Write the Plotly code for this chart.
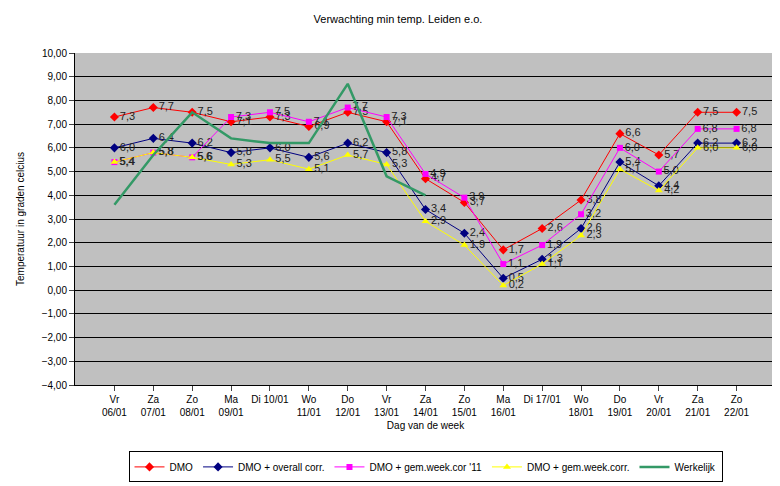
import plotly.graph_objects as go

dagen = ["Vr<br>06/01", "Za<br>07/01", "Zo<br>08/01", "Ma<br>09/01", "Di 10/01", "Wo<br>11/01", "Do<br>12/01",
         "Vr<br>13/01", "Za<br>14/01", "Zo<br>15/01", "Ma<br>16/01", "Di 17/01", "Wo<br>18/01", "Do<br>19/01",
         "Vr<br>20/01", "Za<br>21/01", "Zo<br>22/01"]
dmo = [7.3, 7.7, 7.5, 7.1, 7.3, 6.9, 7.5, 7.1, 4.7, 3.7, 1.7, 2.6, 3.8, 6.6, 5.7, 7.5, 7.5]
overall = [6.0, 6.4, 6.2, 5.8, 6.0, 5.6, 6.2, 5.8, 3.4, 2.4, 0.5, 1.3, 2.6, 5.4, 4.4, 6.2, 6.2]
gemweek11 = [5.4, 5.8, 5.6, 7.3, 7.5, 7.1, 7.7, 7.3, 4.9, 3.9, 1.1, 1.9, 3.2, 6.0, 5.0, 6.8, 6.8]
gemweek = [5.4, 5.8, 5.6, 5.3, 5.5, 5.1, 5.7, 5.3, 2.9, 1.9, 0.2, 1.1, 2.3, 5.1, 4.2, 6.0, 6.0]
werkelijk = [3.6, 5.7, 7.5, 6.4, 6.2, 6.2, 8.7, 4.8, 4.0]

fig = go.Figure()

def reeks(y, name, color, symbol, size):
    fig.add_trace(go.Scatter(x=dagen[:len(y)], y=y, name=name, mode="lines+markers+text",
                             line=dict(color=color, width=1), marker=dict(color=color, symbol=symbol, size=size),
                             text=[("%.1f" % v).replace(".", ",") for v in y], textposition="middle right",
                             textfont=dict(color="#222222", size=11)))

reeks(dmo, "DMO", "#FF0000", "diamond", 7)
reeks(overall, "DMO + overall corr.", "#000080", "diamond", 7)
reeks(gemweek11, "DMO + gem.week.cor '11", "#FF00FF", "square", 6)
reeks(gemweek, "DMO + gem.week.corr.", "#FFFF00", "triangle-up", 7)
fig.add_trace(go.Scatter(x=dagen[:len(werkelijk)], y=werkelijk, name="Werkelijk", mode="lines",
                         line=dict(color="#339966", width=2.5)))

fig.update_layout(
    width=780, height=486, paper_bgcolor="white", plot_bgcolor="#C0C0C0",
    font=dict(family="Arial, Liberation Sans", size=10, color="black"),
    title=dict(text="Verwachting min temp. Leiden e.o.", x=0.5, y=0.985, font=dict(size=11)),
    margin=dict(l=58, r=12, t=45, b=90),
    legend=dict(orientation="h", x=0.5, xanchor="center", y=-0.2, yanchor="top",
                bordercolor="black", borderwidth=1, font=dict(size=10)),
    separators=",.",
)
fig.update_xaxes(title=dict(text="Dag van de week", font=dict(size=10), standoff=4), showline=True, linecolor="black",
                 ticks="outside", showgrid=False, tickfont=dict(size=10))
fig.update_yaxes(title=dict(text="Temperatuur in graden celcius", font=dict(size=10)), range=[-4, 10], dtick=1,
                 tickformat=".2f", gridcolor="black", showline=True, linecolor="black",
                 ticks="outside", zeroline=False, tickfont=dict(size=10))

fig.write_html("out.html")
